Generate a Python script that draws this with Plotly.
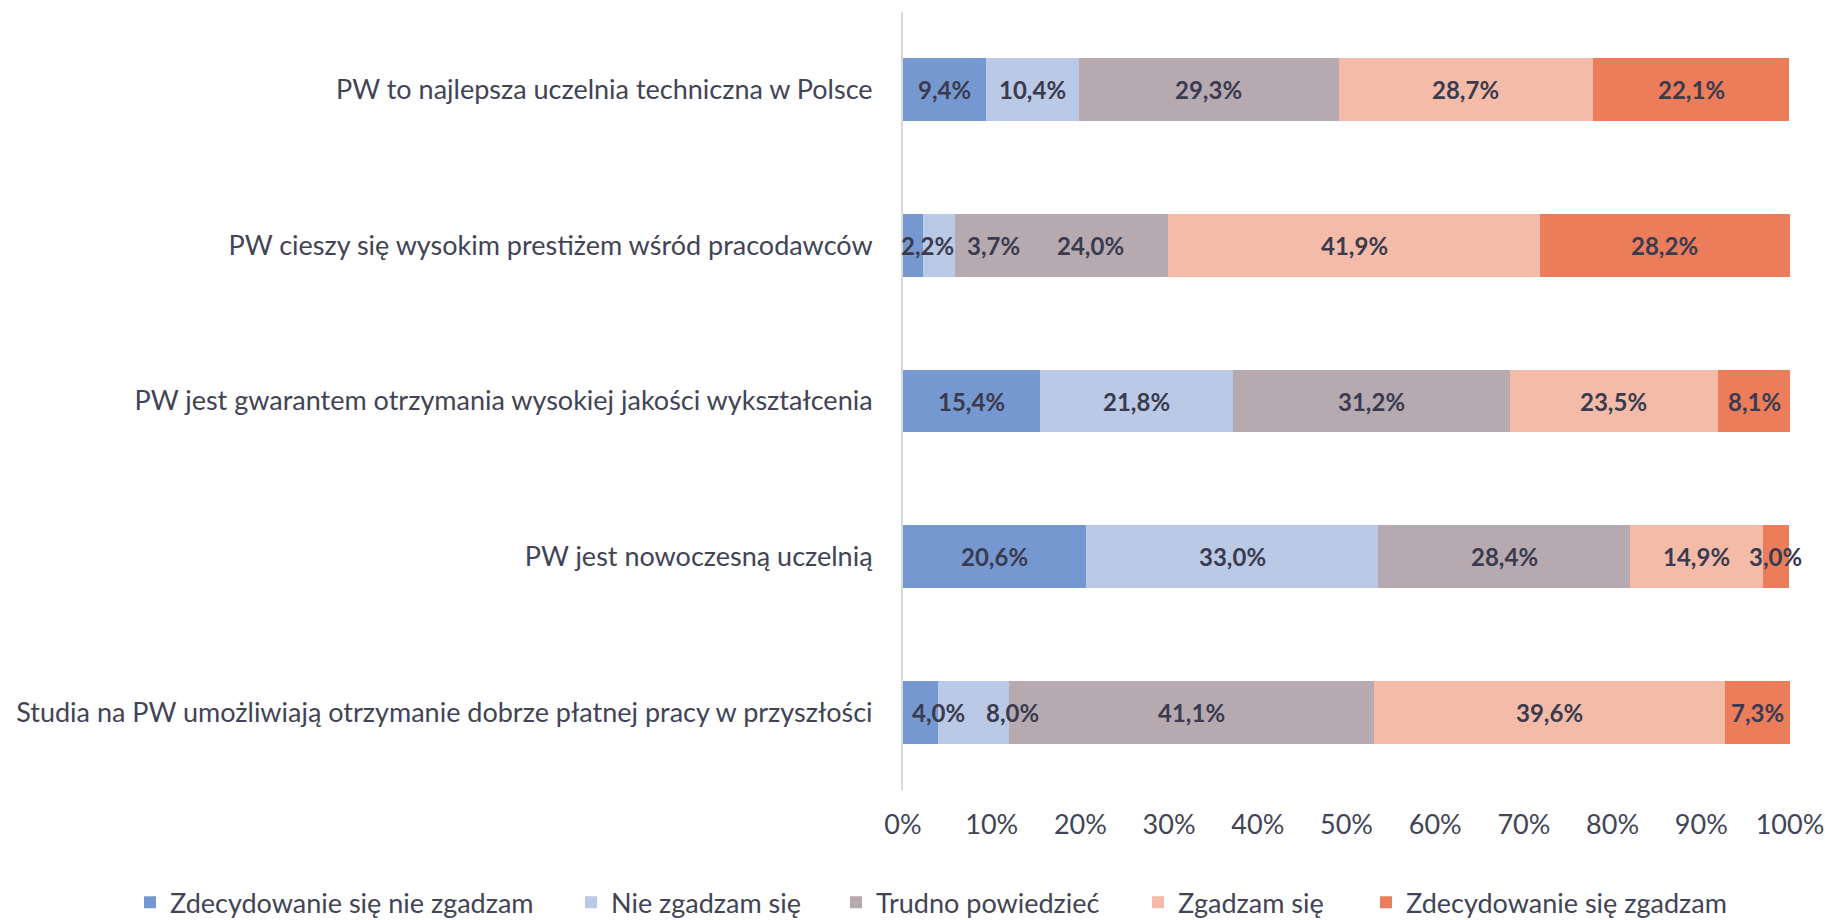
import plotly.graph_objects as go

categories = [
    "PW to najlepsza uczelnia techniczna w Polsce",
    "PW cieszy się wysokim prestiżem wśród pracodawców",
    "PW jest gwarantem otrzymania wysokiej jakości wykształcenia",
    "PW jest nowoczesną uczelnią",
    "Studia na PW umożliwiają otrzymanie dobrze płatnej pracy w przyszłości",
]
series_names = [
    "Zdecydowanie się nie zgadzam",
    "Nie zgadzam się",
    "Trudno powiedzieć",
    "Zgadzam się",
    "Zdecydowanie się zgadzam",
]
s1 = [9.4, 2.2, 15.4, 20.6, 4.0]
s2 = [10.4, 3.7, 21.8, 33.0, 8.0]
s3 = [29.3, 24.0, 31.2, 28.4, 41.1]
s4 = [28.7, 41.9, 23.5, 14.9, 39.6]
s5 = [22.1, 28.2, 8.1, 3.0, 7.3]
series_values = [s1, s2, s3, s4, s5]
colors = ["#7698D0", "#BAC9E6", "#B7A9B0", "#F4BBA8", "#EB7D5B"]
tick_vals = [i / 10 for i in range(11)]
tick_text = [f"{i*10}%" for i in range(11)]

# pixel nudges for crowded labels (row index, series index) -> xshift
label_nudge = {(1, 0): 15, (1, 1): 55, (1, 2): 29, (4, 0): 18, (4, 1): 39}
# legend entry left edges (px) for each series
legend_px = [130, 571, 836, 1138, 1366]

FONT = "Lato"
TXT = "#414456"
LBL = "#3A3B4F"
W, H = 1825, 920
ML, MR, MT, MB = 903, 35, 12, 130
PW = W - ML - MR

fig = go.Figure()
for i, (name, vals, col) in enumerate(zip(series_names, series_values, colors)):
    fig.add_trace(go.Bar(
        y=categories,
        x=[v / 100 for v in vals],
        name=name,
        orientation="h",
        marker=dict(color=col, line=dict(width=0)),
        hoverinfo="skip",
        legend="legend" if i == 0 else f"legend{i+1}",
    ))

annotations = []
cum = [0.0] * len(categories)
for si, vals in enumerate(series_values):
    for ri, v in enumerate(vals):
        center = (cum[ri] + v / 2) / 100
        cum[ri] += v
        annotations.append(dict(
            x=center, y=categories[ri], xref="x", yref="y",
            text=f"{v:.1f}%".replace(".", ","),
            showarrow=False,
            xshift=label_nudge.get((ri, si), 0),
            font=dict(family=FONT, size=24, color=LBL, weight="bold"),
        ))

legends = {}
for i, px in enumerate(legend_px):
    key = "legend" if i == 0 else f"legend{i+1}"
    legends[key] = dict(
        orientation="h",
        xref="paper",
        x=(px - ML) / PW,
        xanchor="left",
        yref="paper",
        y=-0.145,
        yanchor="middle",
        font=dict(family=FONT, size=27, color=TXT),
        itemwidth=30,
        bgcolor="rgba(0,0,0,0)",
    )

fig.update_layout(
    barmode="stack",
    bargap=0.597,
    width=W,
    height=H,
    paper_bgcolor="white",
    plot_bgcolor="white",
    margin=dict(l=ML, r=MR, t=MT, b=MB, autoexpand=False),
    font=dict(family=FONT, color=TXT, size=27),
    showlegend=True,
    annotations=annotations,
    xaxis=dict(
        range=[0, 1],
        tickvals=tick_vals,
        ticktext=tick_text,
        showgrid=False,
        zeroline=False,
        showline=False,
        automargin=False,
        ticklabelstandoff=16,
        tickfont=dict(family=FONT, size=27, color=TXT),
        fixedrange=True,
    ),
    yaxis=dict(
        categoryorder="array",
        categoryarray=categories,
        autorange="reversed",
        showgrid=False,
        zeroline=False,
        showline=True,
        automargin=False,
        linecolor="#D9D9D9",
        linewidth=2,
        ticklabelstandoff=23,
        tickfont=dict(family=FONT, size=27, color=TXT),
        fixedrange=True,
    ),
    **legends,
)

fig.write_html(
    "out.html",
    config={"displayModeBar": False},
    post_script="document.body.style.margin='0';document.body.style.overflow='hidden';",
)
